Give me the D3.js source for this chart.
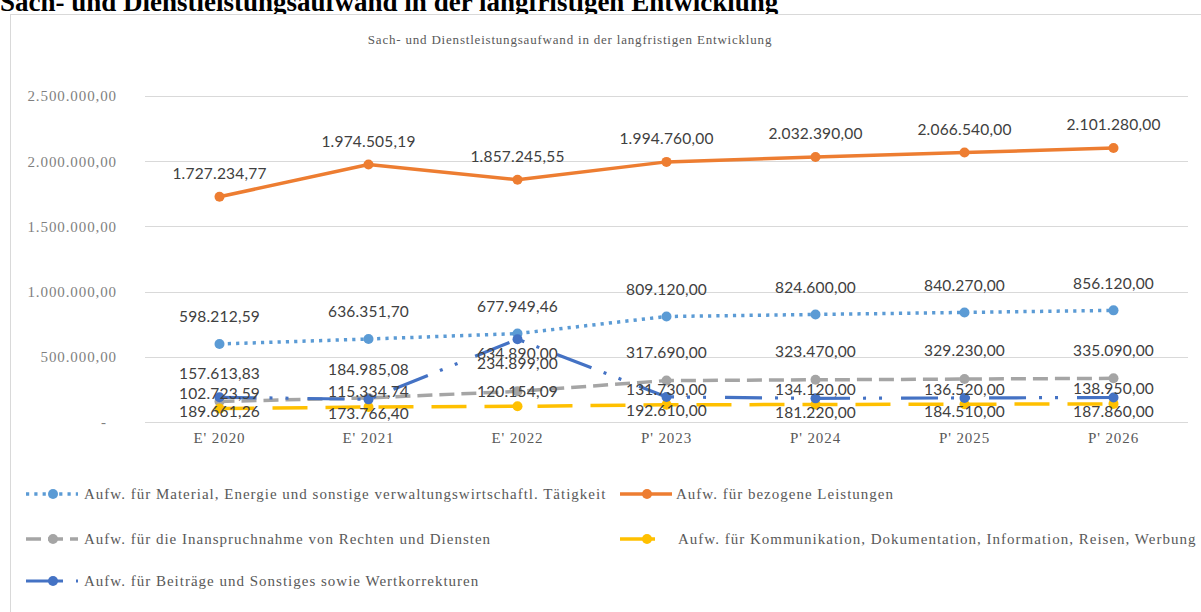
<!DOCTYPE html>
<html>
<head>
<meta charset="utf-8">
<script src="https://cdn.jsdelivr.net/npm/d3@7"></script>
<style>
  html, body { margin: 0; padding: 0; background: #fff; }
  svg { display: block; }
</style>
</head>
<body>
<svg id="chart" width="1201" height="612"></svg>
<script>
// Categories (E' = Ergebnis, P' = Planung)
const categories = ["E' 2020", "E' 2021", "E' 2022", "P' 2023", "P' 2024", "P' 2025", "P' 2026"];

// Series values in EUR
const material      = [598212.59, 636351.70, 677949.46, 809120.00, 824600.00, 840270.00, 856120.00];
const bezogene      = [1727234.77, 1974505.19, 1857245.55, 1994760.00, 2032390.00, 2066540.00, 2101280.00];
const rechte        = [157613.83, 184985.08, 234899.00, 317690.00, 323470.00, 329230.00, 335090.00];
const kommunikation = [102723.59, 115334.74, 120154.09, 131730.00, 134120.00, 136520.00, 138950.00];
const beitraege     = [189661.26, 173766.40, 634890.00, 192610.00, 181220.00, 184510.00, 187860.00];

const seriesNames = [
  "Aufw. für Material, Energie und sonstige verwaltungswirtschaftl. Tätigkeit",
  "Aufw. für bezogene Leistungen",
  "Aufw. für die Inanspruchnahme von Rechten und Diensten",
  "Aufw. für Kommunikation, Dokumentation, Information, Reisen, Werbung",
  "Aufw. für Beiträge und Sonstiges sowie Wertkorrekturen"
];

const yTicks = [0, 500000, 1000000, 1500000, 2000000, 2500000];

const pageTitle = "Sach- und Dienstleistungsaufwand in der langfristigen Entwicklung";
const chartTitle = "Sach- und Dienstleistungsaufwand  in der langfristigen  Entwicklung";

// German number format
const de = d3.formatLocale({ decimal: ",", thousands: ".", grouping: [3], currency: ["", " €"] });
const fmt = de.format(",.2f");

const series = [
  { name: seriesNames[0], values: material,      color: "#5B9BD5", width: 3.5, dash: "3.2 5.1", labelDy: -27 },
  { name: seriesNames[1], values: bezogene,      color: "#ED7D31", width: 3.5, dash: null,      labelDy: -23 },
  { name: seriesNames[2], values: rechte,        color: "#A5A5A5", width: 3.5, dash: "15 7",    labelDy: -28 },
  { name: seriesNames[3], values: kommunikation, color: "#FFC000", width: 3.5, dash: "35 18",   labelDy: -15 },
  { name: seriesNames[4], values: beitraege,     color: "#4472C4", width: 3.2, dash: "37 13 3 13 3 19", labelDy: 14 }
];

const svg = d3.select("#chart");

// page heading (partly above the visible area)
svg.append("text")
  .attr("x", 0).attr("y", 11)
  .attr("font-family", "'Liberation Serif', 'Times New Roman', serif")
  .attr("font-weight", "bold")
  .attr("font-size", 27)
  .attr("fill", "#000")
  .text(pageTitle);

// chart frame
svg.append("rect")
  .attr("x", 10.5).attr("y", 14.5)
  .attr("width", 1195).attr("height", 610)
  .attr("fill", "#fff")
  .attr("stroke", "#d9d9d9").attr("stroke-width", 1);

svg.append("text")
  .attr("x", 570).attr("y", 44)
  .attr("text-anchor", "middle")
  .attr("font-family", "'Liberation Serif', 'Times New Roman', serif")
  .attr("font-size", 13)
  .attr("letter-spacing", 0.8)
  .attr("fill", "#595959")
  .text(chartTitle);

const x = d3.scaleBand().domain(categories).range([145, 1188]);
const cx = c => x(c) + x.bandwidth() / 2;
const y = d3.scaleLinear().domain([0, 2500000]).range([422, 96]);

// gridlines
svg.append("g").selectAll("line").data(yTicks).join("line")
  .attr("x1", 145).attr("x2", 1188)
  .attr("y1", d => Math.round(y(d)) + 0.5).attr("y2", d => Math.round(y(d)) + 0.5)
  .attr("stroke", "#d9d9d9").attr("stroke-width", 1);

// y axis labels
const yAxis = d3.axisLeft(y).tickValues(yTicks).tickSize(0).tickPadding(0)
  .tickFormat(d => d === 0 ? "-" : fmt(d));
const gy = svg.append("g").attr("transform", "translate(117,0)").call(yAxis);
gy.select(".domain").remove();
gy.selectAll("text")
  .attr("font-family", "'Liberation Serif', 'Times New Roman', serif")
  .attr("font-size", 15)
  .attr("letter-spacing", 0.9)
  .attr("fill", "#7f7f7f")
  .attr("dy", "0.32em");
gy.selectAll(".tick").filter(d => d === 0).select("text").attr("x", -10);

// x axis labels
const xAxis = d3.axisBottom(x).tickSize(0).tickPadding(0);
const gx = svg.append("g").attr("transform", "translate(0,432)").call(xAxis);
gx.select(".domain").remove();
gx.selectAll("text")
  .attr("font-family", "'Liberation Serif', 'Times New Roman', serif")
  .attr("font-size", 15)
  .attr("letter-spacing", 0.9)
  .attr("fill", "#595959")
  .attr("dy", "0.71em");

// lines and markers
const line = d3.line().x((d, i) => cx(categories[i])).y(d => y(d));
series.forEach(s => {
  const g = svg.append("g");
  g.append("path")
    .attr("d", line(s.values))
    .attr("fill", "none")
    .attr("stroke", s.color)
    .attr("stroke-width", s.width)
    .attr("stroke-dasharray", s.dash)
    .attr("stroke-linejoin", "round");
  g.selectAll("circle").data(s.values).join("circle")
    .attr("cx", (d, i) => cx(categories[i]))
    .attr("cy", d => y(d))
    .attr("r", 5)
    .attr("fill", s.color);
});

// data labels
series.forEach(s => {
  svg.append("g").selectAll("text").data(s.values).join("text")
    .attr("x", (d, i) => cx(categories[i]))
    .attr("y", d => y(d) + s.labelDy)
    .attr("dy", "0.35em")
    .attr("text-anchor", "middle")
    .attr("font-family", "Lato, 'Open Sans', sans-serif")
    .attr("font-size", 15.5)
    .attr("letter-spacing", 0.2)
    .attr("fill", "#404040")
    .text(d => fmt(d));
});

// legend
const legendPos = [
  { sx: 26, tx: 84, ty: 494 },
  { sx: 620, tx: 676, ty: 494 },
  { sx: 26, tx: 84, ty: 539 },
  { sx: 620, tx: 678, ty: 539 },
  { sx: 26, tx: 84, ty: 581 }
];
series.forEach((s, i) => {
  const p = legendPos[i];
  const g = svg.append("g");
  g.append("line")
    .attr("x1", p.sx).attr("x2", p.sx + 52)
    .attr("y1", p.ty).attr("y2", p.ty)
    .attr("stroke", s.color)
    .attr("stroke-width", s.width)
    .attr("stroke-dasharray", s.dash);
  g.append("circle")
    .attr("cx", p.sx + 27).attr("cy", p.ty).attr("r", 5)
    .attr("fill", s.color);
  g.append("text")
    .attr("x", p.tx).attr("y", p.ty)
    .attr("dy", "0.35em")
    .attr("font-family", "'Liberation Serif', 'Times New Roman', serif")
    .attr("font-size", 15)
    .attr("letter-spacing", 1.0)
    .attr("fill", "#595959")
    .text(s.name);
});
</script>
</body>
</html>
